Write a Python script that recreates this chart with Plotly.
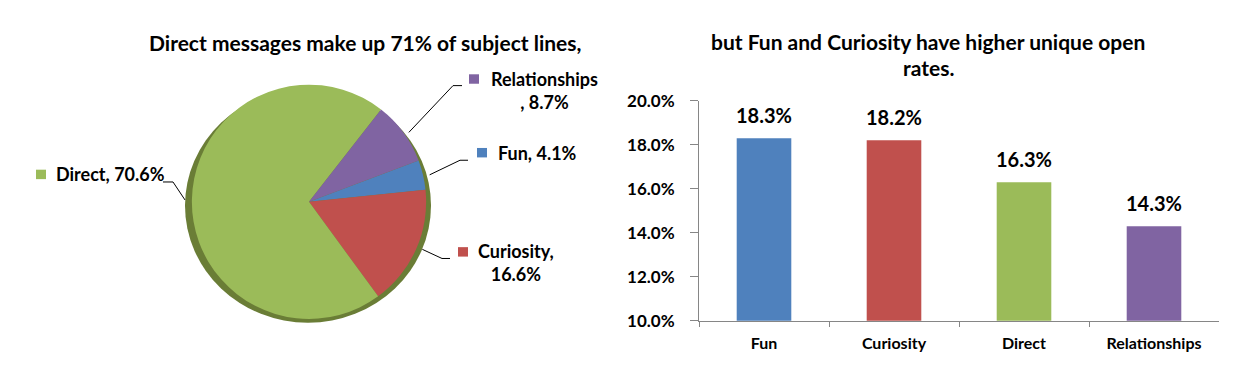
import math
import plotly.graph_objects as go

# ---------------- data ----------------
categories = ["Fun", "Curiosity", "Direct", "Relationships"]
share_pct = [4.1, 16.6, 70.6, 8.7]          # share of subject lines (%)
open_rate_pct = [18.3, 18.2, 16.3, 14.3]     # unique open rate (%)
colors = ["#4F81BD", "#C0504D", "#9BBB59", "#8064A2"]
y_ticks = [0.10, 0.12, 0.14, 0.16, 0.18, 0.20]

title_left = "Direct messages make up 71% of subject lines,"
title_right_1 = "but Fun and Curiosity have higher unique open"
title_right_2 = "rates."

# ---------------- layout constants (pixels) ----------------
W, H = 1238, 379
FONT = "Lato"
pie_cx, pie_cy, pie_r = 309, 202, 124
pie_rotation = 69.3

def px(x):
    return x / W

def py(y):
    return 1 - y / H

# label layout: square centre, text centre, elbow, end of leader line, line-break
label_layout = {
    "Relationships": dict(sq=(474, 72), txt=(544, 84), elbow=(453, 79), end=(462, 79), brk="before_pct_comma"),
    "Fun": dict(sq=(482, 150), txt=(537, 150), elbow=(460, 158), end=(468, 158), brk=None),
    "Curiosity": dict(sq=(463, 255), txt=(516, 266), elbow=(442, 262), end=(450, 262), brk="after_comma"),
    "Direct": dict(sq=(41, 173), txt=(110, 173), elbow=(173, 181), end=(163, 181), brk=None),
}

fig = go.Figure()

# ---------------- pie ----------------
fig.add_trace(go.Pie(
    labels=categories,
    values=share_pct,
    sort=False,
    direction="clockwise",
    rotation=pie_rotation,
    marker=dict(colors=colors, line=dict(width=0)),
    textinfo="none",
    showlegend=False,
    hoverinfo="label+percent",
    domain=dict(x=[px(pie_cx - pie_r), px(pie_cx + pie_r)],
                y=[py(pie_cy + pie_r), py(pie_cy - pie_r)]),
))

shapes = []
# soft shadow under the pie
shapes.append(dict(type="circle", xref="paper", yref="paper", layer="below",
                   x0=px(pie_cx - pie_r), x1=px(pie_cx + pie_r - 2),
                   y0=py(pie_cy + pie_r + 4), y1=py(pie_cy - pie_r + 4),
                   fillcolor="#6a7d36", line=dict(width=0)))

annotations = []
total = sum(share_pct)
angle = pie_rotation
for cat, val, col in zip(categories, share_pct, colors):
    span = val / total * 360
    mid = math.radians(angle + span / 2)
    angle += span
    L = label_layout[cat]
    sx = pie_cx + pie_r * math.sin(mid)
    sy = pie_cy - pie_r * math.cos(mid)
    ex, ey = L["elbow"]
    fx, fy = L["end"]
    shapes.append(dict(type="path", xref="paper", yref="paper",
                       path=f"M {px(sx)} {py(sy)} L {px(ex)} {py(ey)} L {px(fx)} {py(fy)}",
                       line=dict(color="black", width=1)))
    qx, qy = L["sq"]
    shapes.append(dict(type="rect", xref="paper", yref="paper",
                       x0=px(qx - 5), x1=px(qx + 5), y0=py(qy + 5), y1=py(qy - 5),
                       fillcolor=col, line=dict(width=0)))
    if L["brk"] == "before_pct_comma":
        text = f"{cat}<br>, {val}%"
    elif L["brk"] == "after_comma":
        text = f"{cat},<br>{val}%"
    else:
        text = f"{cat}, {val}%"
    tx, ty = L["txt"]
    annotations.append(dict(xref="paper", yref="paper", x=px(tx), y=py(ty),
                            text=text, showarrow=False, xanchor="center", yanchor="middle",
                            align="center",
                            font=dict(family=FONT, size=18, color="black", weight="bold")))

# ---------------- bar ----------------
fig.add_trace(go.Bar(
    x=categories,
    y=[v / 100 for v in open_rate_pct],
    marker=dict(color=colors, line=dict(width=0)),
    width=0.42,
    showlegend=False,
    xaxis="x", yaxis="y",
    hovertemplate="%{x}: %{y:.1%}<extra></extra>",
))
for cat, v in zip(categories, open_rate_pct):
    annotations.append(dict(xref="x", yref="y", x=cat, y=v / 100, yshift=23,
                            text=f"{v}%", showarrow=False, xanchor="center", yanchor="middle",
                            font=dict(family=FONT, size=20, color="black", weight="bold")))

# ---------------- titles ----------------
title_font = dict(family=FONT, size=21, color="black", weight="bold")
annotations.append(dict(xref="paper", yref="paper", x=px(365), y=py(33), text=title_left,
                        showarrow=False, xanchor="center", yanchor="middle", font=title_font))
annotations.append(dict(xref="paper", yref="paper", x=px(928), y=py(32), text=title_right_1,
                        showarrow=False, xanchor="center", yanchor="middle", font=title_font))
annotations.append(dict(xref="paper", yref="paper", x=px(928), y=py(60), text=title_right_2,
                        showarrow=False, xanchor="center", yanchor="middle", font=title_font))

fig.update_layout(
    width=W, height=H,
    margin=dict(l=0, r=0, t=0, b=0),
    paper_bgcolor="white", plot_bgcolor="white",
    font=dict(family=FONT, color="black"),
    shapes=shapes,
    annotations=annotations,
    xaxis=dict(domain=[px(699), px(1219)], anchor="y",
               categoryorder="array", categoryarray=categories,
               showline=True, linecolor="#868686", linewidth=1,
               ticks="outside", tickson="boundaries", ticklen=5, tickcolor="#868686",
               showgrid=False, zeroline=False,
               tickfont=dict(family=FONT, size=16, color="black", weight="bold"),
               ticklabelstandoff=8),
    yaxis=dict(domain=[py(328), py(95)], anchor="x",
               range=[0.10, 0.20], tickvals=y_ticks, tickformat=".1%",
               showline=True, linecolor="#868686", linewidth=1,
               ticks="outside", ticklen=8, tickcolor="#868686",
               showgrid=False, zeroline=False,
               tickfont=dict(family=FONT, size=17, color="black", weight="bold"),
               ticklabelstandoff=12),
)

fig.write_html("out.html", config={"displayModeBar": False},
               post_script="document.body.style.margin='0px';")
